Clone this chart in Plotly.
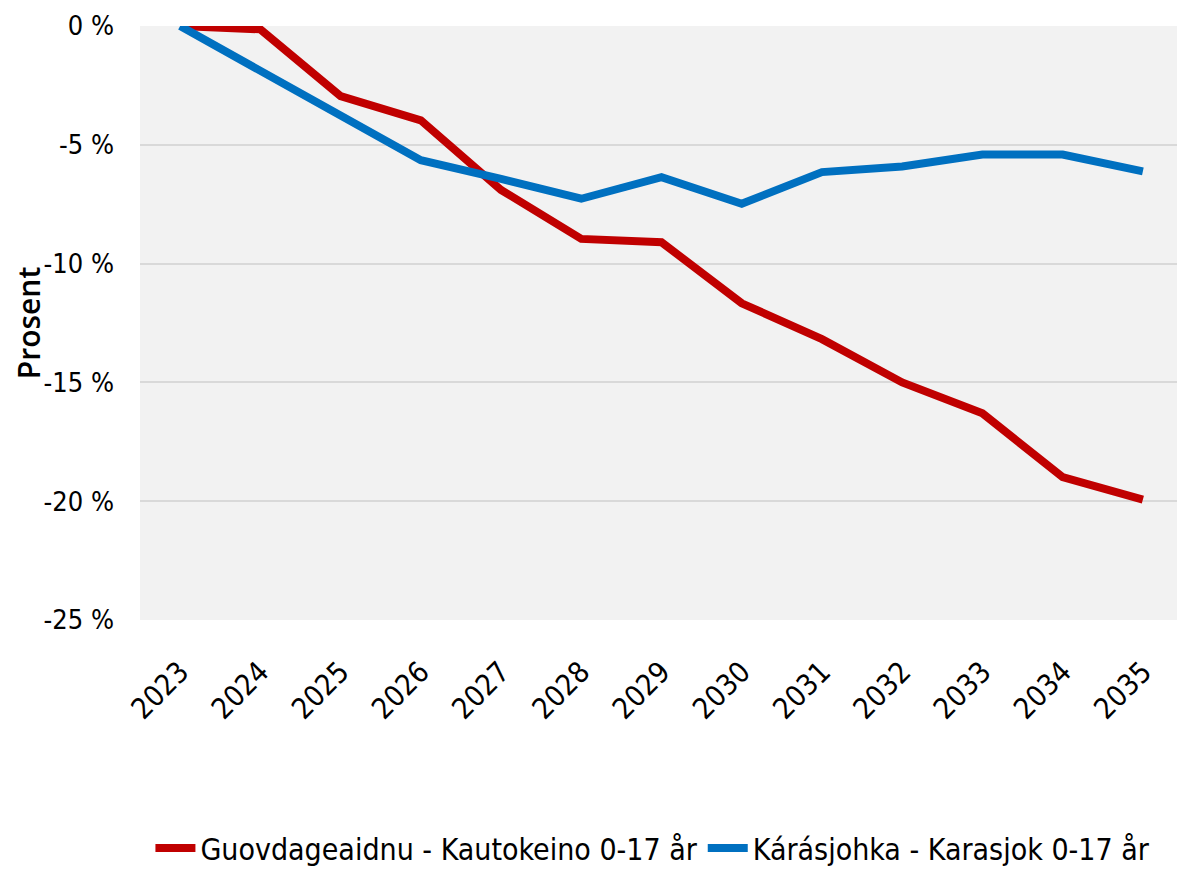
import plotly.graph_objects as go

years = ["2023", "2024", "2025", "2026", "2027", "2028", "2029", "2030", "2031", "2032", "2033", "2034", "2035"]
kautokeino = [0.0, -0.14, -2.95, -3.97, -6.9, -8.96, -9.1, -11.67, -13.18, -15.0, -16.3, -18.99, -19.93]
karasjok = [0.0, -1.87, -3.74, -5.65, -6.43, -7.27, -6.36, -7.48, -6.15, -5.91, -5.41, -5.41, -6.12]
series_names = ["Guovdageaidnu - Kautokeino 0-17 år", "Kárásjohka - Karasjok 0-17 år"]
series_colors = ["#C00000", "#0070C0"]
y_tickvals = [0, -5, -10, -15, -20, -25]
y_ticktext = ["0 %", "-5 %", "-10 %", "-15 %", "-20 %", "-25 %"]
y_title = "Prosent"

narrow = "Liberation Sans Narrow, DejaVu Sans Condensed, Arial Narrow, sans-serif"

fig = go.Figure()
for name, vals, col in zip(series_names, [kautokeino, karasjok], series_colors):
    fig.add_trace(go.Scatter(
        x=years, y=vals, name=name, mode="lines",
        line=dict(color=col, width=8), cliponaxis=False,
    ))

fig.update_layout(
    width=1177, height=869,
    margin=dict(l=132, r=2, t=18, b=257),
    paper_bgcolor="white", plot_bgcolor="#F2F2F2",
    font=dict(family=narrow, size=29, color="black"),
    showlegend=True,
    legend=dict(orientation="h", x=0.01, xanchor="left", y=-0.384, yanchor="middle",
                font=dict(family=narrow, size=30, color="black"),
                itemwidth=40),
)
fig.update_xaxes(
    type="category", range=[-0.5, len(years) - 0.5], tickangle=-45,
    showgrid=False, zeroline=False, automargin=False,
    showline=False, ticks="", ticklabelstandoff=28, tickfont=dict(family=narrow, size=29),
)
fig.update_yaxes(
    range=[-25, 0], tickvals=y_tickvals, ticktext=y_ticktext, automargin=False,
    showgrid=True, gridcolor="#D9D9D9", gridwidth=2, zeroline=False,
    showline=False, ticks="", ticklabelstandoff=25,
    tickfont=dict(family=narrow, size=27),
    title=dict(text=y_title, font=dict(family="Open Sans, sans-serif", size=30, color="black", weight=600), standoff=20),
)

fig.write_html("out.html")
